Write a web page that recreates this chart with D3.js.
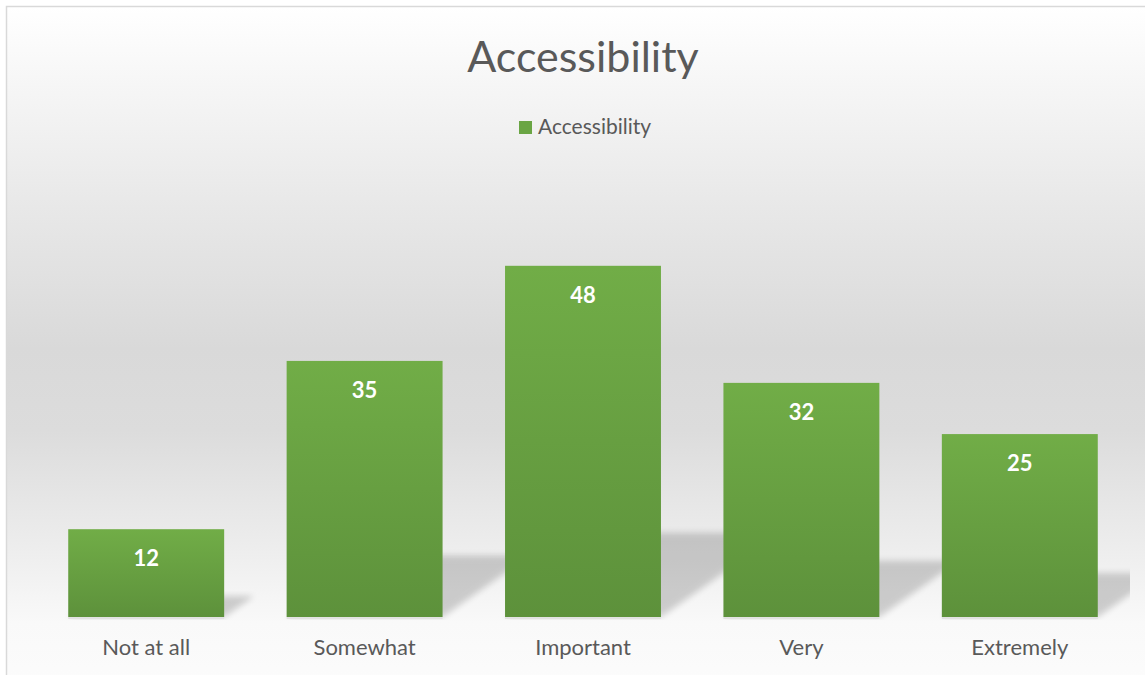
<!DOCTYPE html>
<html>
<head>
<meta charset="utf-8">
<script src="https://cdn.jsdelivr.net/npm/d3@7"></script>
<style>
  body { margin: 0; background: #fff; }
  svg { display: block; }
</style>
</head>
<body>
<svg id="chart"></svg>
<script>
// chart data
var categories = ["Not at all", "Somewhat", "Important", "Very", "Extremely"];
var values = [12, 35, 48, 32, 25];
var seriesName = "Accessibility";
var chartTitle = "Accessibility";

var W = 1145, H = 675;
var font = "Lato, 'Open Sans', sans-serif";

var svg = d3.select("#chart").attr("width", W).attr("height", H);
var defs = svg.append("defs");

// background gradient (white -> gray -> white)
var bg = defs.append("linearGradient").attr("id", "bg")
  .attr("x1", 0).attr("y1", 0).attr("x2", 0).attr("y2", 1);
[[0, "#ffffff"], [0.28, "#e9e9e9"], [0.5, "#d9d9d9"], [0.62, "#dcdcdc"],
 [0.78, "#ececec"], [0.9, "#f9f9f9"], [1, "#fcfcfc"]].forEach(function(s) {
  bg.append("stop").attr("offset", s[0]).attr("stop-color", s[1]);
});

// bar gradient
var barGrad = defs.append("linearGradient").attr("id", "barGrad")
  .attr("x1", 0).attr("y1", 0).attr("x2", 0).attr("y2", 1);
barGrad.append("stop").attr("offset", 0).attr("stop-color", "#71ad47");
barGrad.append("stop").attr("offset", 1).attr("stop-color", "#5d913b");

defs.append("filter").attr("id", "blur")
  .attr("x", "-20%").attr("y", "-20%").attr("width", "140%").attr("height", "140%")
  .append("feGaussianBlur").attr("stdDeviation", 3);

defs.append("clipPath").attr("id", "plotClip")
  .append("rect").attr("x", 10).attr("y", 150).attr("width", 1120).attr("height", 470);

svg.append("rect")
  .attr("x", 6.5).attr("y", 6.5).attr("width", W + 10).attr("height", H + 10)
  .attr("fill", "url(#bg)")
  .attr("stroke", "#d9d9d9").attr("stroke-width", 1.5);

// scales
var x = d3.scaleBand()
  .domain(categories)
  .range([37, 1129])
  .paddingInner(0.286)
  .paddingOuter(0.143);

var y = d3.scaleLinear()
  .domain([0, 60])
  .range([617, 178]);

var data = categories.map(function(c, i) { return {cat: c, val: values[i]}; });

// floor shadows behind each bar
svg.append("g").attr("clip-path", "url(#plotClip)")
  .selectAll("path")
  .data(data)
  .enter()
  .append("path")
    .attr("d", function(d) {
      var x0 = x(d.cat), x1 = x0 + x.bandwidth();
      var h = y(0) - y(d.val);
      var dy = 0.24 * h, dx = 0.34 * h;
      return "M" + x0 + "," + y(0) + "L" + x1 + "," + y(0) +
             "L" + (x1 + dx) + "," + (y(0) - dy) + "L" + (x0 + dx) + "," + (y(0) - dy) + "Z";
    })
    .attr("fill", "#000")
    .attr("opacity", 0.17)
    .attr("filter", "url(#blur)");

// thin line under bars
svg.append("g").selectAll("rect")
  .data(data)
  .enter()
  .append("rect")
    .attr("x", function(d) { return x(d.cat); })
    .attr("y", y(0))
    .attr("width", x.bandwidth())
    .attr("height", 2)
    .attr("fill", "#e2e2e2");

// bars
svg.append("g").selectAll("rect")
  .data(data)
  .enter()
  .append("rect")
    .attr("x", function(d) { return x(d.cat); })
    .attr("y", function(d) { return y(d.val); })
    .attr("width", x.bandwidth())
    .attr("height", function(d) { return y(0) - y(d.val); })
    .attr("fill", "url(#barGrad)");

// value labels
svg.append("g").selectAll("text")
  .data(data)
  .enter()
  .append("text")
    .attr("x", function(d) { return x(d.cat) + x.bandwidth() / 2; })
    .attr("y", function(d) { return y(d.val) + 37; })
    .attr("text-anchor", "middle")
    .attr("font-family", font)
    .attr("font-weight", "bold")
    .attr("font-size", 22)
    .attr("fill", "#ffffff")
    .text(function(d) { return d.val; });

// category axis
var xAxis = svg.append("g")
  .attr("transform", "translate(0," + y(0) + ")")
  .call(d3.axisBottom(x).tickSize(0).tickPadding(22));
xAxis.select(".domain").remove();
xAxis.selectAll("text")
  .attr("font-family", font)
  .attr("font-size", 22)
  .attr("fill", "#595959");

// title
svg.append("text")
  .attr("x", 583).attr("y", 72)
  .attr("text-anchor", "middle")
  .attr("font-family", font)
  .attr("font-size", 43)
  .attr("fill", "#595959")
  .text(chartTitle);

// legend
svg.append("rect")
  .attr("x", 519).attr("y", 121).attr("width", 13).attr("height", 13)
  .attr("fill", "#6aa544");
svg.append("text")
  .attr("x", 538).attr("y", 134)
  .attr("font-family", font)
  .attr("font-size", 21)
  .attr("fill", "#595959")
  .text(seriesName);
</script>
</body>
</html>
